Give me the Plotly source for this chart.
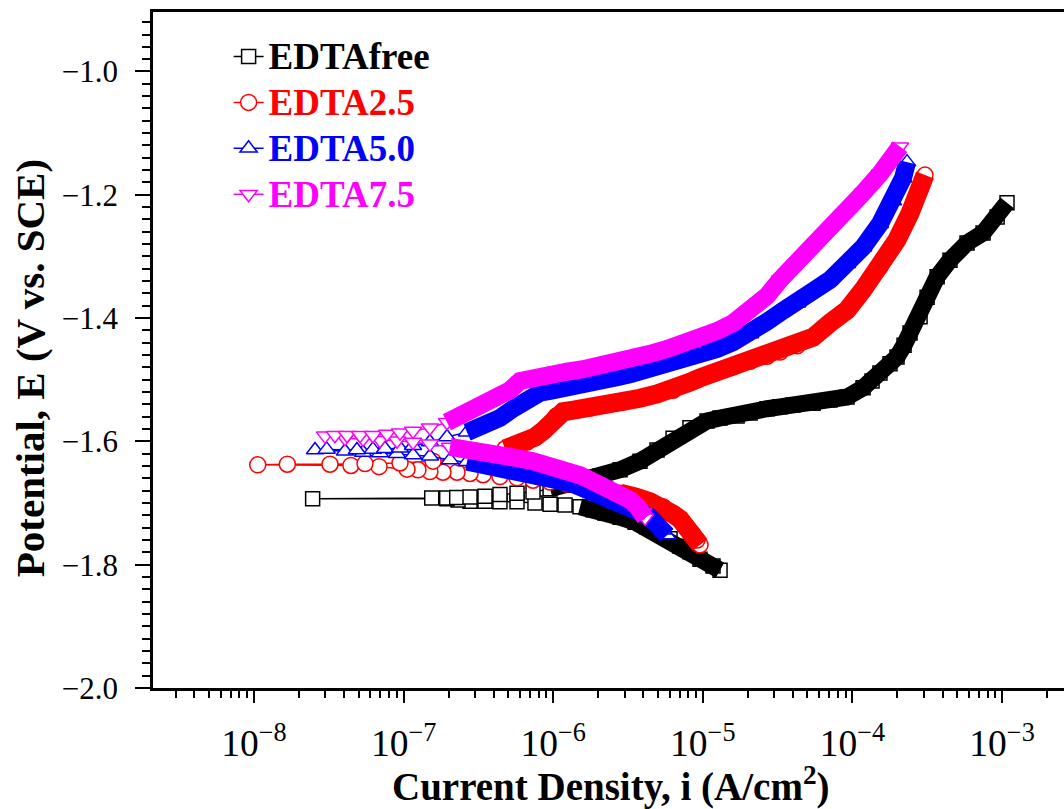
import numpy as np
import plotly.graph_objects as go

# ---------------- data (log10 of current density in A/cm2, potential in V vs SCE) -------------
free_cath_logi = [-4.885, -4.932, -5.019, -5.086, -5.152, -5.219, -5.286, -5.373, -5.453, -5.553,
                  -5.654, -5.734, -5.821, -5.921, -6.021, -6.122, -6.242, -6.356, -6.456, -6.556,
                  -6.636, -6.710, -7.608]
free_cath_E = [-1.809, -1.802, -1.791, -1.779, -1.770, -1.758, -1.749, -1.739, -1.731, -1.723,
               -1.716, -1.711, -1.706, -1.703, -1.702, -1.700, -1.698, -1.698, -1.697, -1.697,
               -1.695, -1.693, -1.693]
free_anod_logi = [-6.812, -6.712, -6.645, -6.556, -6.456, -6.356, -6.242, -6.135, -6.021, -5.921,
                  -5.821, -5.687, -5.553, -5.420, -5.306, -5.199, -5.086, -4.972, -4.885, -4.771,
                  -4.684, -4.571, -4.484, -4.397, -4.263, -4.150, -4.036, -3.929, -3.869, -3.816,
                  -3.749, -3.702, -3.655, -3.615, -3.548, -3.501, -3.434, -3.348, -3.234, -3.127,
                  -3.033, -2.967]
free_anod_E = [-1.692, -1.692, -1.691, -1.690, -1.689, -1.686, -1.684, -1.682, -1.677, -1.671,
               -1.664, -1.656, -1.646, -1.632, -1.614, -1.595, -1.578, -1.567, -1.562, -1.559,
               -1.554, -1.547, -1.544, -1.541, -1.538, -1.533, -1.528, -1.513, -1.502, -1.489,
               -1.474, -1.463, -1.444, -1.424, -1.398, -1.366, -1.333, -1.306, -1.278, -1.262,
               -1.236, -1.213]

e25_cath_logi = [-5.019, -5.039, -5.072, -5.106, -5.152, -5.199, -5.266, -5.353, -5.453, -5.553,
                 -5.654, -5.754, -5.841, -5.908, -6.021, -6.135, -6.242, -6.356, -6.469, -6.556,
                 -6.643, -6.737, -6.824, -6.904, -6.977, -7.164, -7.352, -7.975]
e25_cath_E = [-1.768, -1.760, -1.749, -1.739, -1.726, -1.718, -1.706, -1.698, -1.690, -1.684,
              -1.679, -1.676, -1.672, -1.669, -1.666, -1.663, -1.659, -1.657, -1.654, -1.652,
              -1.650, -1.650, -1.649, -1.646, -1.645, -1.641, -1.639, -1.638]
e25_anod_logi = [-7.777, -7.492, -7.258, -7.024, -6.803, -6.623, -6.443, -6.322, -6.242, -6.175,
                 -6.122, -6.068, -6.021, -5.981, -5.934, -5.854, -5.754, -5.654, -5.533, -5.420,
                 -5.306, -5.199, -5.086, -5.019, -4.905, -4.798, -4.684, -4.571, -4.484, -4.370,
                 -4.263, -4.150, -4.036, -3.929, -3.816, -3.702, -3.615, -3.548, -3.515]
e25_anod_E = [-1.637, -1.637, -1.636, -1.635, -1.632, -1.627, -1.619, -1.612, -1.607, -1.601,
              -1.593, -1.583, -1.572, -1.559, -1.552, -1.549, -1.546, -1.541, -1.536, -1.530,
              -1.523, -1.517, -1.504, -1.497, -1.487, -1.479, -1.470, -1.462, -1.455, -1.445,
              -1.431, -1.408, -1.387, -1.354, -1.317, -1.273, -1.230, -1.192, -1.168]

e50_cath_logi = [-5.239, -5.266, -5.306, -5.353, -5.420, -5.533, -5.640, -5.754, -5.868, -5.975,
                 -6.088, -6.242, -6.356, -6.469, -6.576, -6.690, -6.824, -6.937, -7.044, -7.158,
                 -7.271, -7.392, -7.592]
e50_cath_E = [-1.752, -1.744, -1.732, -1.723, -1.715, -1.702, -1.690, -1.679, -1.669, -1.663,
              -1.656, -1.646, -1.642, -1.638, -1.633, -1.630, -1.624, -1.622, -1.620, -1.619,
              -1.618, -1.616, -1.614]
e50_anod_logi = [-7.514, -7.312, -7.205, -7.124, -7.024, -6.937, -6.824, -6.710, -6.576, -6.443,
                 -6.356, -6.269, -6.175, -6.088, -6.021, -5.934, -5.801, -5.707, -5.574, -5.487,
                 -5.353, -5.239, -5.132, -5.019, -4.905, -4.798, -4.684, -4.571, -4.464, -4.370,
                 -4.263, -4.150, -4.036, -3.929, -3.816, -3.729, -3.662, -3.635]
e50_anod_E = [-1.613, -1.614, -1.613, -1.612, -1.611, -1.607, -1.601, -1.593, -1.585, -1.573,
              -1.562, -1.547, -1.531, -1.521, -1.518, -1.515, -1.507, -1.502, -1.496, -1.491,
              -1.483, -1.474, -1.468, -1.460, -1.450, -1.439, -1.426, -1.406, -1.388, -1.376,
              -1.356, -1.338, -1.312, -1.285, -1.247, -1.210, -1.173, -1.147]

e75_cath_logi = [-5.386, -5.400, -5.440, -5.487, -5.540, -5.600, -5.654, -5.707, -5.767, -5.821,
                 -5.921, -6.021, -6.135, -6.242, -6.356, -6.469, -6.576, -6.690, -6.824, -6.937,
                 -7.044, -7.158, -7.271, -7.392, -7.525]
e75_cath_E = [-1.724, -1.715, -1.705, -1.695, -1.687, -1.679, -1.672, -1.666, -1.661, -1.655,
              -1.646, -1.638, -1.632, -1.627, -1.622, -1.617, -1.612, -1.609, -1.604, -1.601,
              -1.599, -1.598, -1.596, -1.595, -1.591]
e75_anod_logi = [-7.459, -7.378, -7.291, -7.205, -7.111, -7.024, -6.937, -6.824, -6.710, -6.576,
                 -6.443, -6.356, -6.289, -6.222, -6.135, -6.021, -5.908, -5.801, -5.687, -5.574,
                 -5.467, -5.353, -5.239, -5.132, -5.019, -4.905, -4.798, -4.684, -4.571, -4.484,
                 -4.370, -4.263, -4.150, -4.036, -3.929, -3.816, -3.729, -3.682]
e75_anod_E = [-1.590, -1.590, -1.590, -1.590, -1.588, -1.586, -1.583, -1.578, -1.569, -1.554,
              -1.538, -1.528, -1.517, -1.502, -1.496, -1.492, -1.487, -1.483, -1.478, -1.471,
              -1.465, -1.458, -1.450, -1.442, -1.434, -1.421, -1.408, -1.390, -1.364, -1.338,
              -1.311, -1.286, -1.259, -1.228, -1.197, -1.166, -1.140, -1.122]

series_names = ["EDTAfree", "EDTA2.5", "EDTA5.0", "EDTA7.5"]
series_colors = ["#000000", "#ff0000", "#0000ff", "#ff00ff"]
series_symbols = ["square", "circle", "triangle-up", "triangle-down"]
series_sizes = [14, 16, 15, 15]
# current density above which the measured points overlap into a solid band (cathodic, anodic)
dense_from = [(-5.9, -6.1), (-5.6, -6.35), (-6.6, -6.6), (-6.7, -6.8)]

series_data = [
    (free_cath_logi, free_cath_E, free_anod_logi, free_anod_E),
    (e25_cath_logi, e25_cath_E, e25_anod_logi, e25_anod_E),
    (e50_cath_logi, e50_cath_E, e50_anod_logi, e50_anod_E),
    (e75_cath_logi, e75_cath_E, e75_anod_logi, e75_anod_E),
]

FONT = "Liberation Serif"
fig = go.Figure()

for k, (cl, ce, al, ae) in enumerate(series_data):
    col = series_colors[k]
    logi = np.array(cl + al)
    E = np.array(ce + ae)
    fig.add_trace(go.Scatter(
        x=10 ** logi, y=E, mode="lines+markers",
        name=f"<span style='color:{col};font-size:37px'>{series_names[k]}</span>",
        line=dict(color=col, width=1.5),
        marker=dict(symbol=series_symbols[k], size=series_sizes[k], color="white",
                    line=dict(color=col, width=1.5)),
    ))
    # dense parts of both branches
    for lg, ee, thr in ((cl, ce, dense_from[k][0]), (al, ae, dense_from[k][1])):
        lg = np.array(lg)
        ee = np.array(ee)
        m = lg > thr
        fig.add_trace(go.Scatter(
            x=10 ** lg[m], y=ee[m], mode="lines", showlegend=False, hoverinfo="skip",
            line=dict(color=col, width=series_sizes[k] + 3),
        ))

fig.update_layout(
    width=1064, height=809,
    margin=dict(l=153, r=0, t=12, b=121),
    plot_bgcolor="white", paper_bgcolor="white",
    font=dict(family=FONT, color="black"),
    legend=dict(x=0.083, y=0.9755, xanchor="left", yanchor="top",
                bgcolor="rgba(0,0,0,0)", borderwidth=0,
                font=dict(family=FONT, size=33, weight="bold"),
                itemwidth=30),
    xaxis=dict(type="log", range=[-8.675, -2.586], showline=True, linecolor="black", linewidth=2.5,
               mirror=True, showgrid=False, zeroline=False,
               ticks="outside", ticklen=12, tickwidth=2, tickcolor="black", dtick=1,
               exponentformat="power", tickfont=dict(family=FONT, size=30),
               ticklabelstandoff=10,
               minor=dict(ticks="outside", ticklen=7, tickwidth=1.5, tickcolor="black", showgrid=False)),
    yaxis=dict(range=[-2.0, -0.9035], showline=True, linecolor="black", linewidth=2.5,
               showgrid=False, zeroline=False,
               ticks="outside", ticklen=15, tickwidth=2, tickcolor="black",
               tick0=-2.0, dtick=0.2, tickformat=".1f",
               tickfont=dict(family=FONT, size=31), ticklabelstandoff=11,
               minor=dict(ticks="outside", ticklen=8, tickwidth=1.5, tickcolor="black",
                          dtick=0.02, showgrid=False)),
    annotations=[
        dict(text="Potential, E (V vs. SCE)", textangle=-90, xref="paper", yref="paper",
             x=-0.135, y=0.473, xanchor="center", yanchor="middle", showarrow=False,
             font=dict(family=FONT, size=41, weight="bold")),
        dict(text="Current Density, i (A/cm<sup>2</sup>)", xref="paper", yref="paper",
             x=0.503, y=-0.143, xanchor="center", yanchor="middle", showarrow=False,
             font=dict(family=FONT, size=39, weight="bold")),
    ],
)

fig.write_html("out.html")
